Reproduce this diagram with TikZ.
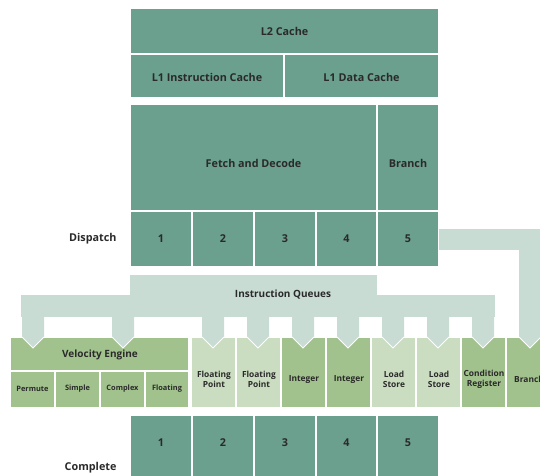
\documentclass[tikz,border=0pt]{standalone}
\usepackage{fontspec}
\setmainfont{Open Sans}
\definecolor{cacheTeal}{HTML}{6CA08E}
\definecolor{engGreen}{HTML}{A2C28D}
\definecolor{unitLight}{HTML}{CBDDC1}
\definecolor{queueLight}{HTML}{C8DCD4}
\definecolor{labelInk}{HTML}{2A2A2A}
\begin{document}
\begin{tikzpicture}[x=1pt,y=-1pt,
  blk/.style={draw=white,line width=1.3pt},
  big/.style={text=labelInk,font=\fontsize{10.8}{12}\selectfont\bfseries},
  head/.style={text=labelInk,font=\fontsize{10}{11}\selectfont\bfseries},
  mid/.style={text=labelInk,font=\fontsize{8.4}{10}\selectfont\bfseries,align=center},
  tiny/.style={text=labelInk,font=\fontsize{7.4}{8}\selectfont\bfseries},
  lbl/.style={text=labelInk,font=\fontsize{10.8}{12}\selectfont\bfseries,anchor=east}]
\useasboundingbox (0,0) rectangle (540,475);
\clip (0,0) rectangle (540,475);

% ---- caches ----
\path[blk,fill=cacheTeal] (130,8) rectangle (439,54);
\path[blk,fill=cacheTeal] (130,54) rectangle (284,98);
\path[blk,fill=cacheTeal] (284,54) rectangle (439,98);
\node[big] (l2) at (284.5,31) {L2 Cache};
\node[big] (l1i) at (207,77) {L1 Instruction Cache};
\node[big] (l1d) at (361.5,77) {L1 Data Cache};

% ---- fetch / branch / dispatch ----
\path[blk,fill=cacheTeal] (130,104) rectangle (377,211);
\path[blk,fill=cacheTeal] (377,104) rectangle (439,211);
\node[big] (fd) at (253.5,163) {Fetch and Decode};
\node[big] (br) at (408,163) {Branch};
\foreach \i/\xa/\xb in {1/130/192,2/192/254,3/254/316,4/316/377,5/377/439}{
  \path[blk,fill=cacheTeal] (\xa,211) rectangle (\xb,267);
  \node[big] (d\i) at ({(\xa+\xb)/2},239) {\i};
}
\node[lbl] (dispatch) at (120,239) {Dispatch};

% ---- execution units ----
\path[blk,fill=engGreen] (10,337) rectangle (189,371);
\node[head] (ve) at (100,355) {Velocity Engine};
\foreach \n/\xa/\xb/\t in {p/10/55/Permute,s/55/100/Simple,c/100/145/Complex,f/145/189/Floating}{
  \path[blk,fill=engGreen] (\xa,371) rectangle (\xb,408);
  \node[tiny] (ve\n) at ({(\xa+\xb)/2},389) {\t};
}
\foreach \n/\xa/\col/\t in {
  fpa/191/unitLight/{Floating\\Point},
  fpb/236/unitLight/{Floating\\Point},
  inta/281/engGreen/Integer,
  intb/326/engGreen/Integer,
  lsa/371/unitLight/{Load\\Store},
  lsb/416/unitLight/{Load\\Store},
  cr/461/engGreen/{Condition\\Register},
  bru/506/engGreen/Branch}{
  \path[blk,fill=\col] (\xa,337) rectangle ({\xa+45},408);
  \node[mid] (\n) at ({\xa+23},379) {\t};
}

% ---- completion ----
\foreach \i/\xa/\xb in {1/130/192,2/192/254,3/254/316,4/316/377,5/377/439}{
  \path[blk,fill=cacheTeal] (\xa,415) rectangle (\xb,480);
  \node[big] (c\i) at ({(\xa+\xb)/2},443) {\i};
}
\node[lbl] (complete) at (120,468) {Complete};

% ---- instruction queues ----
\fill[queueLight] (130,275) rectangle (377,296);
\fill[queueLight] (21,295) rectangle (495,317);
\foreach \t in {33,123,213,258,303,348,393,438,483}{
  \fill[queueLight] (\t-11,316) -- (\t+11,316) -- (\t+11,337) -- (\t,348) -- (\t-11,337) -- cycle;
  \draw[white,line width=0.9pt] (\t-11,337) -- (\t,348) -- (\t+11,337);
}
\node[head] (iq) at (283,295) {Instruction Queues};

% ---- branch path ----
\fill[queueLight] (439,229) rectangle (541,250);
\fill[queueLight] (519,229) -- (541,229) -- (541,337) -- (530,348) -- (519,337) -- cycle;
\draw[white,line width=0.9pt] (519,337) -- (530,348) -- (541,337);
\end{tikzpicture}
\end{document}
